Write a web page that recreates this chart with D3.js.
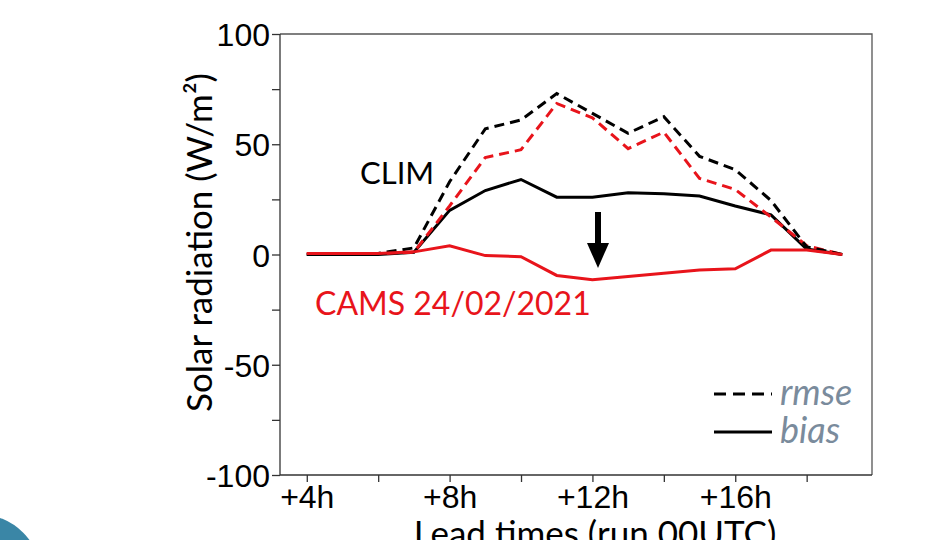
<!DOCTYPE html>
<html>
<head>
    <title>Solar radiation lead times</title>
    <style>
        body { margin: 0; background: #fff; }
        svg { display: block; font-family: Lato, "Open Sans", sans-serif; }
        .axis path, .axis line { stroke: #333; stroke-width: 1.3px; }
        .axis text { font-size: 32px; fill: #000; }
    </style>
</head>
<body>
<script src="https://d3js.org/d3.v7.min.js"></script>
<script>
    // lead times (hours) and series values
    const leadHours = [4, 5, 6, 7, 8, 9, 10, 11, 12, 13, 14, 15, 16, 17, 18, 19];
    const climRmse = [0, 0, 0.5, 3, 33, 57, 61, 73, 64, 55, 62.5, 44.5, 38.5, 24.5, 3.5, 0];
    const climBias = [0, 0, 0, 1, 20, 29, 34, 26, 26, 28, 27.5, 26.5, 22, 18, 2.5, 0];
    const camsRmse = [0.5, 0.5, 0.5, 1, 22, 44, 47.5, 68.5, 62, 48, 55.5, 34.5, 29.5, 17, 4, 0];
    const camsBias = [0.5, 0.5, 0.5, 1.2, 4, -0.5, -1, -9.5, -11.5, -10, -8.5, -7, -6.5, 2, 2, 0];
    const yTicks = [-100, -75, -50, -25, 0, 25, 50, 75, 100];
    const yLabels = [-100, -50, 0, 50, 100];
    const xTicks = [4, 6, 8, 10, 12, 14, 16, 18];
    const xLabels = [4, 8, 12, 16];

    const width = 939, height = 540;
    const plot = { left: 280, right: 872, top: 34, bottom: 475 };

    const svg = d3.select("body").append("svg")
        .attr("width", width)
        .attr("height", height);

    const x = d3.scaleLinear().domain([3.25, 19.83]).range([plot.left, plot.right]);
    const y = d3.scaleLinear().domain([-100, 100]).range([plot.bottom, plot.top]);

    // decorative teal circle bottom-left
    svg.append("circle")
        .attr("cx", -22).attr("cy", 578).attr("r", 64)
        .attr("fill", "#3a86a6");

    // frame (top + right)
    svg.append("path")
        .attr("d", `M${plot.left},${plot.top}H${plot.right}V${plot.bottom}`)
        .attr("fill", "none").attr("stroke", "#555").attr("stroke-width", 1.3);

    // y axis
    const yAxis = svg.append("g").attr("class", "axis")
        .attr("transform", `translate(${plot.left},0)`)
        .call(d3.axisLeft(y).tickValues(yTicks).tickSize(8).tickPadding(2)
            .tickFormat(d => yLabels.includes(d) ? d : ""));
    yAxis.select(".domain").attr("d", `M0,${plot.top}V${plot.bottom}`);
    yAxis.selectAll("text").attr("dy", "0.36em");

    // x axis
    const xAxis = svg.append("g").attr("class", "axis")
        .attr("transform", `translate(0,${plot.bottom})`)
        .call(d3.axisBottom(x).tickValues(xTicks).tickSize(7).tickPadding(3)
            .tickFormat(d => xLabels.includes(d) ? "+" + d + "h" : ""));
    xAxis.select(".domain").attr("d", `M${plot.left},0H${plot.right}`);

    // axis titles
    svg.append("text")
        .attr("transform", `translate(212,${(plot.top + plot.bottom) / 2 - 12}) rotate(-90)`)
        .attr("text-anchor", "middle")
        .attr("font-size", 35)
        .text("Solar radiation (W/m²)");

    svg.append("text")
        .attr("x", 595).attr("y", 546)
        .attr("text-anchor", "middle")
        .attr("font-size", 35)
        .text("Lead times (run 00UTC)");

    const line = d3.line()
        .x((d, i) => x(leadHours[i]))
        .y(d => y(d));

    const series = [
        { values: climBias, color: "#000", dash: null },
        { values: camsRmse, color: "#e8141b", dash: "10,6" },
        { values: climRmse, color: "#000", dash: "10,6" },
        { values: camsBias, color: "#e8141b", dash: null }
    ];

    svg.selectAll(".series")
        .data(series)
        .enter()
        .append("path")
        .attr("class", "series")
        .attr("d", d => line(d.values))
        .attr("fill", "none")
        .attr("stroke", d => d.color)
        .attr("stroke-width", 3)
        .attr("stroke-dasharray", d => d.dash);

    // annotations
    svg.append("text")
        .attr("x", 360).attr("y", 184)
        .attr("font-size", 31)
        .text("CLIM");

    svg.append("text")
        .attr("x", 315).attr("y", 315)
        .attr("font-size", 32)
        .attr("fill", "#e8141b")
        .text("CAMS 24/02/2021");

    // arrow
    svg.append("rect")
        .attr("x", 595).attr("y", 212).attr("width", 6).attr("height", 33)
        .attr("fill", "#000");
    svg.append("path")
        .attr("d", "M587,243L609,243L598,268Z")
        .attr("fill", "#000");

    // legend
    const legend = svg.append("g");
    legend.append("line")
        .attr("x1", 714).attr("x2", 772).attr("y1", 394).attr("y2", 394)
        .attr("stroke", "#000").attr("stroke-width", 3)
        .attr("stroke-dasharray", "12,7");
    legend.append("line")
        .attr("x1", 714).attr("x2", 772).attr("y1", 432).attr("y2", 432)
        .attr("stroke", "#000").attr("stroke-width", 3);
    legend.append("text")
        .attr("x", 780).attr("y", 405)
        .attr("font-size", 36).attr("font-style", "italic")
        .attr("fill", "#7a8b9c")
        .text("rmse");
    legend.append("text")
        .attr("x", 780).attr("y", 443)
        .attr("font-size", 36).attr("font-style", "italic")
        .attr("fill", "#7a8b9c")
        .text("bias");
</script>
</body>
</html>
